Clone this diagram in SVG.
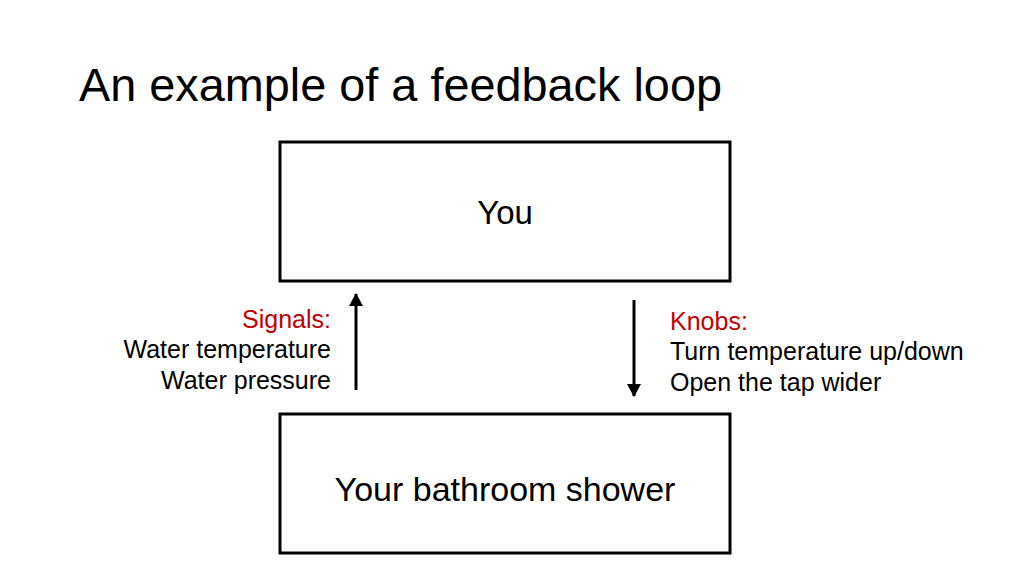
<svg xmlns="http://www.w3.org/2000/svg" width="1024" height="576" viewBox="0 0 1024 576">
<style>
text{font-family:"Liberation Sans",Arial,sans-serif;fill:#000}
.box{fill:#fff;stroke:#000;stroke-width:3}
.red{fill:#c00000}
.lbl{font-size:25px}
.con{stroke:#000;stroke-width:3;fill:none}
</style>
<defs><marker id="ah" markerUnits="userSpaceOnUse" markerWidth="13" markerHeight="14" refX="12" refY="7" orient="auto" viewBox="0 0 13 14"><path d="M0,0 L13,7 L0,14 Z" fill="#000"/></marker></defs>
<rect width="1024" height="576" fill="#fff"/>
<text x="79" y="101" font-size="46" textLength="643" lengthAdjust="spacingAndGlyphs">An example of a feedback loop</text>
<g id="you"><rect class="box" x="280" y="142" width="450" height="139"/><text x="505" y="224" font-size="33" text-anchor="middle">You</text></g>
<g id="shower"><rect class="box" x="280" y="414" width="450" height="139"/><text x="505" y="501" font-size="34" text-anchor="middle">Your bathroom shower</text></g>
<g id="connectors">
<line class="con" x1="356" y1="390" x2="356" y2="294" marker-end="url(#ah)"/>
<line class="con" x1="634" y1="300" x2="634" y2="396" marker-end="url(#ah)"/>
</g>
<g id="signals" text-anchor="end" class="lbl"><text x="331" y="328" class="red">Signals:</text><text x="331" y="358">Water temperature</text><text x="331" y="389">Water pressure</text></g>
<g id="knobs" class="lbl"><text x="670" y="330" class="red">Knobs:</text><text x="670" y="360">Turn temperature up/down</text><text x="670" y="391">Open the tap wider</text></g>
</svg>
